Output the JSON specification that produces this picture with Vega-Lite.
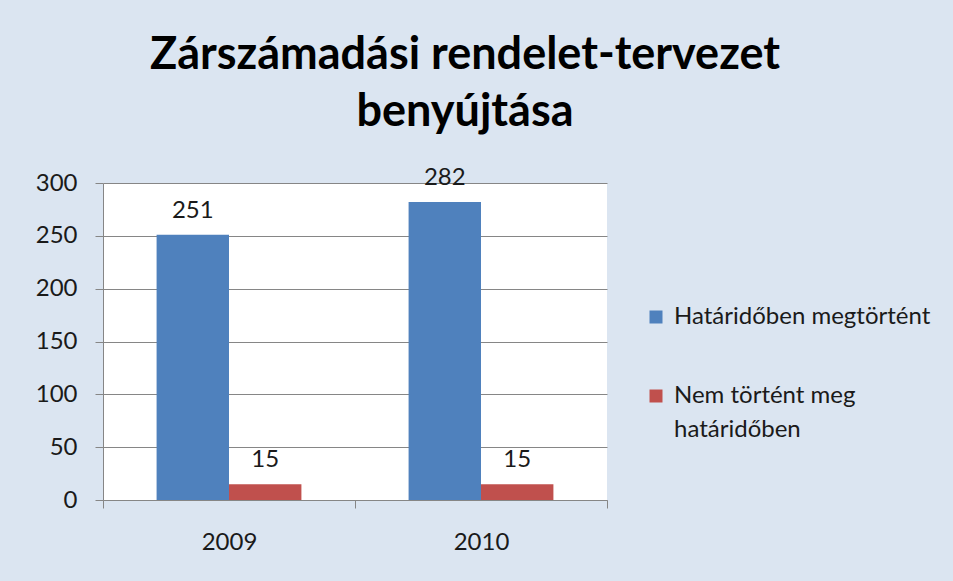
{
  "$schema": "https://vega.github.io/schema/vega-lite/v6.json",
  "autosize": {"type": "none"},
  "padding": {"left": 103, "top": 183, "right": 346, "bottom": 81},
  "width": 504,
  "height": 317,
  "background": "#dbe5f1",
  "title": {
    "text": ["Zárszámadási rendelet-tervezet", "benyújtása"],
    "font": "Lato",
    "fontSize": 45,
    "fontWeight": "bold",
    "lineHeight": 57,
    "color": "#000000",
    "anchor": "middle",
    "dx": 110,
    "offset": 31
  },
  "data": {
    "values": [
      {"year": "2009", "series": "Határidőben megtörtént", "value": 251},
      {"year": "2009", "series": "Nem történt meg határidőben", "value": 15},
      {"year": "2010", "series": "Határidőben megtörtént", "value": 282},
      {"year": "2010", "series": "Nem történt meg határidőben", "value": 15}
    ]
  },
  "encoding": {
    "x": {
      "field": "year", "type": "nominal",
      "scale": {"paddingInner": 0, "paddingOuter": 0},
      "axis": {
        "title": null, "labelAngle": 0, "tickBand": "extent",
        "domainColor": "#868686", "tickColor": "#868686", "tickSize": 8,
        "labelFont": "Lato", "labelFontSize": 24, "labelColor": "#1a1a1a",
        "labelPadding": 22, "labelBaseline": "top"
      }
    },
    "xOffset": {
      "field": "series", "type": "nominal",
      "scale": {"paddingInner": 0, "paddingOuter": 0.74}
    },
    "y": {
      "field": "value", "type": "quantitative",
      "scale": {"domain": [0, 300], "nice": false},
      "axis": {
        "title": null, "values": [0, 50, 100, 150, 200, 250, 300],
        "domainColor": "#868686", "tickColor": "#868686", "tickSize": 8,
        "gridColor": "#868686", "gridOpacity": 1,
        "labelFont": "Lato", "labelFontSize": 24, "labelColor": "#1a1a1a",
        "labelPadding": 18
      }
    }
  },
  "layer": [
    {
      "mark": {"type": "bar"},
      "encoding": {
        "color": {
          "field": "series", "type": "nominal",
          "scale": {"domain": ["Határidőben megtörtént", "Nem történt meg határidőben"], "range": ["#4f81bd", "#c0504d"]},
          "legend": {
            "title": null, "orient": "none", "legendX": 541, "legendY": 122,
            "symbolType": "square", "symbolSize": 169, "symbolStrokeWidth": 0,
            "labelFont": "Lato", "labelFontSize": 24, "labelColor": "#1a1a1a",
            "labelOffset": 6, "rowPadding": 55, "padding": 0, "labelLimit": 400,
            "labelExpr": "datum.label == 'Nem történt meg határidőben' ? ['Nem történt meg', 'határidőben'] : datum.label",
            "labelBaseline": "middle"
          }
        }
      }
    },
    {
      "mark": {"type": "text", "baseline": "alphabetic", "dy": -17, "font": "Lato", "fontSize": 24, "color": "#1a1a1a"},
      "encoding": {"text": {"field": "value", "type": "quantitative"}}
    }
  ],
  "config": {
    "view": {"fill": "#ffffff", "stroke": null},
    "style": {"guide-label": {"lineHeight": 34}}
  }
}
